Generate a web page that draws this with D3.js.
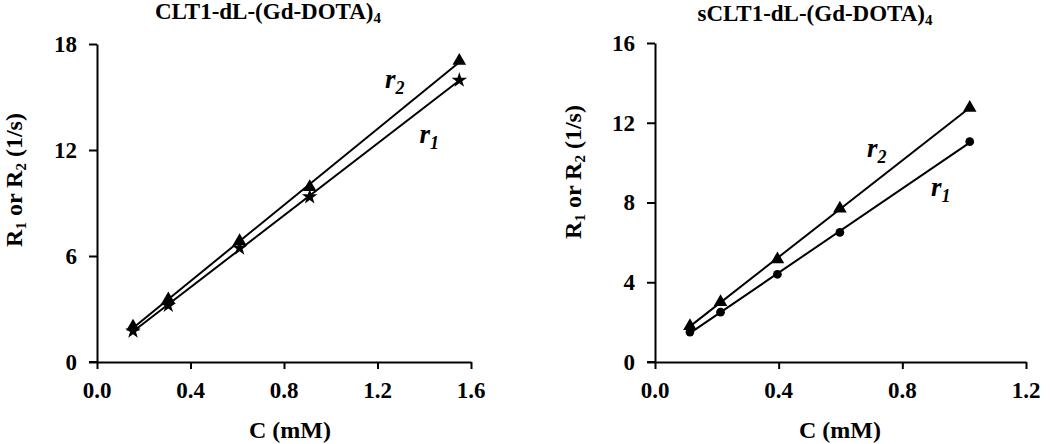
<!DOCTYPE html>
<html><head><meta charset="utf-8">
<script src="https://cdn.jsdelivr.net/npm/d3@7"></script>
<style>
body{margin:0;background:#fff;}
svg{display:block;}
</style></head><body>
<svg id="c" width="1050" height="444"></svg>
<script>
// Left panel: CLT1-dL-(Gd-DOTA)4
const leftC  = [0.154, 0.305, 0.61, 0.91, 1.55];
const leftR1 = [1.75, 3.2, 6.45, 9.35, 15.95];
const leftR2 = [2.0, 3.55, 6.85, 9.9, 17.05];
const leftXTicks = [0, 0.4, 0.8, 1.2, 1.6];
const leftYTicks = [0, 6, 12, 18];
// Right panel: sCLT1-dL-(Gd-DOTA)4
const rightC  = [0.113, 0.212, 0.396, 0.598, 1.018];
const rightR1 = [1.5, 2.5, 4.4, 6.5, 11.05];
const rightR2 = [1.8, 3.0, 5.15, 7.7, 12.75];
const rightXTicks = [0, 0.4, 0.8, 1.2];
const rightYTicks = [0, 4, 8, 12, 16];

const FONT = '"Liberation Serif", "Times New Roman", serif';
const svg = d3.select("#c");

function fit(xs, ys){
  const n = xs.length, mx = d3.mean(xs), my = d3.mean(ys);
  let sxy=0, sxx=0;
  for(let i=0;i<n;i++){ sxy += (xs[i]-mx)*(ys[i]-my); sxx += (xs[i]-mx)**2; }
  const b = sxy/sxx; return {b, a: my - b*mx};
}
function txt(sel, size){
  return sel.style("font-family", FONT).style("font-size", size+"px").style("font-weight","bold").style("fill","#000");
}

function panel(o){
  const g = svg.append("g");
  const x = d3.scaleLinear().domain([0, o.xMax]).range([o.x0, o.x1]);
  const y = d3.scaleLinear().domain([0, o.yMax]).range([362, o.yTop]);

  const xa = g.append("g").attr("transform","translate(0,362)")
    .call(d3.axisBottom(x).tickValues(o.xTicks).tickFormat("").tickSize(7).tickSizeOuter(0));
  const ya = g.append("g").attr("transform",`translate(${o.x0},0)`)
    .call(d3.axisLeft(y).tickValues(o.yTicks).tickFormat("").tickSize(8).tickSizeOuter(0));
  [xa, ya].forEach(a=>{
    a.selectAll("path,line").attr("stroke","#000").attr("stroke-width",2);
  });
  g.append("line").attr("x1",o.x0-8).attr("x2",o.x0).attr("y1",362).attr("y2",362).attr("stroke","#000").attr("stroke-width",2);

  // tick labels
  const fx = d3.format(".1f");
  o.xTicks.forEach(v=>{
    txt(g.append("text").attr("x",x(v)).attr("y",398).attr("text-anchor","middle"), 23).text(fx(v));
  });
  o.yTicks.forEach(v=>{
    txt(g.append("text").attr("x",o.x0-20).attr("y",y(v)).attr("dy","0.34em").attr("text-anchor","end"), 23).text(String(v));
  });

  // trend lines
  [o.r1, o.r2].forEach(ys=>{
    const f = fit(o.c, ys);
    const xmin = d3.min(o.c), xmax = d3.max(o.c);
    g.append("line").attr("x1",x(xmin)).attr("y1",y(f.a+f.b*xmin))
      .attr("x2",x(xmax)).attr("y2",y(f.a+f.b*xmax))
      .attr("stroke","#000").attr("stroke-width",2);
  });
  // markers
  const sym1 = d3.symbol().type(o.m1).size(o.s1);
  const sym2 = d3.symbol().type(d3.symbolTriangle).size(80);
  o.c.forEach((cv,i)=>{
    g.append("path").attr("d",sym1()).attr("transform",`translate(${x(cv)},${y(o.r1[i])})`).attr("fill","#000");
    g.append("path").attr("d",sym2()).attr("transform",`translate(${x(cv)},${y(o.r2[i])})`).attr("fill","#000");
  });

  // title
  const t = txt(g.append("text").attr("x",o.tx).attr("y",o.ty).attr("text-anchor","middle"), 23);
  t.append("tspan").text(o.title);
  t.append("tspan").style("font-size","15px").attr("dy",4).text("4");

  // x label
  txt(g.append("text").attr("x",o.xlx).attr("y",438).attr("text-anchor","middle"), 24).text("C (mM)");

  // y label
  const yl = txt(g.append("text").attr("transform",`translate(${o.ylx},${o.yly}) rotate(-90)`)
    .attr("text-anchor","middle"), 24);
  yl.append("tspan").text("R");
  yl.append("tspan").style("font-size","15px").attr("dy",4).text("1");
  yl.append("tspan").attr("dy",-4).text(" or R");
  yl.append("tspan").style("font-size","15px").attr("dy",4).text("2");
  yl.append("tspan").attr("dy",-4).text(o.gap + "(1/s)");

  // series labels
  [[o.l2, "2"],[o.l1, "1"]].forEach(([p, s])=>{
    const lt = txt(g.append("text").attr("x",x(p[0])).attr("y",y(p[1])), 27).style("font-style","italic");
    lt.append("tspan").text("r");
    lt.append("tspan").style("font-size","18px").attr("dy",6).text(s);
  });
}

panel({x0:97, x1:471, yTop:44, xMax:1.6, yMax:18, xTicks:leftXTicks, yTicks:leftYTicks,
  c:leftC, r1:leftR1, r2:leftR2, m1:d3.symbolStar, s1:75,
  title:"CLT1-dL-(Gd-DOTA)", tx:268, ty:19, xlx:290, ylx:22, yly:180, gap:" ",
  l2:[1.232, 15.5], l1:[1.38, 12.4]});
panel({x0:655, x1:1026, yTop:43, xMax:1.2, yMax:16, xTicks:rightXTicks, yTicks:rightYTicks,
  c:rightC, r1:rightR1, r2:rightR2, m1:d3.symbolCircle, s1:60,
  title:"sCLT1-dL-(Gd-DOTA)", tx:815, ty:21, xlx:840, ylx:581, yly:172, gap:"  ",
  l2:[0.686, 10.3], l1:[0.893, 8.35]});
</script>
</body></html>
